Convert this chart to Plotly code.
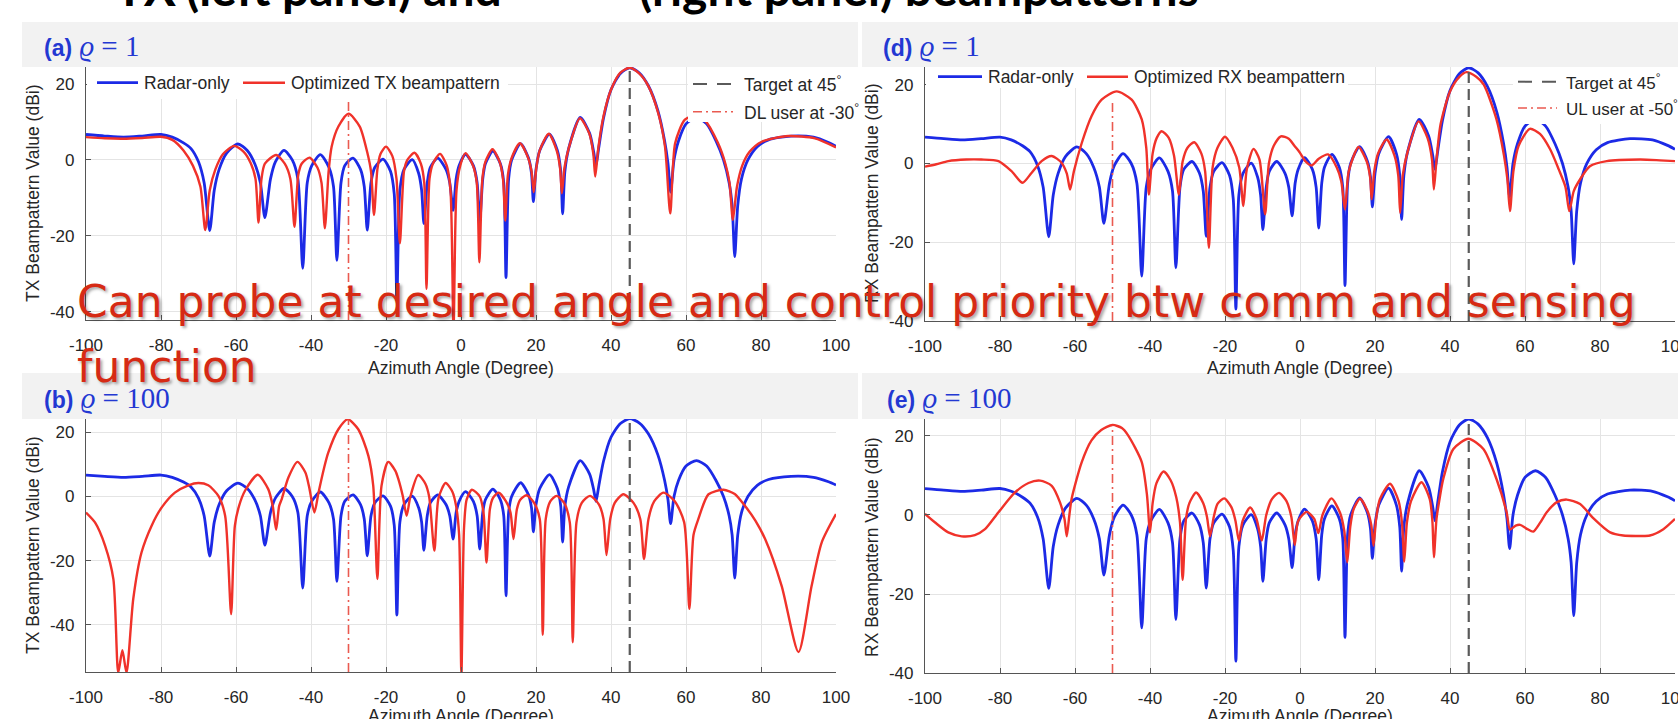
import plotly.graph_objects as go

W, H = 1678, 719

# ---------------- data ----------------
x_tick_vals = [-100, -80, -60, -40, -20, 0, 20, 40, 60, 80, 100]
x_tick_text = ["-100", "-80", "-60", "-40", "-20", "0", "20", "40", "60", "80", "100"]
y_tick_vals = [-40, -20, 0, 20]
y_tick_text = ["-40", "-20", "0", "20"]

target_angle = 45
dl_user_angle = -30
ul_user_angle = -50

title_pieces = ["TX", "(left panel) and", "(right panel) beampatterns"]

# Radar-only beampattern (same in all panels): (azimuth deg, dBi)
radar_pts = [
    (-100, 6.7), (-95, 6.3), (-90, 6.0), (-85, 6.3), (-80, 6.7), (-77, 6.0), (-74, 4.5), (-72, 3.0),
    (-70, -0.5), (-68.5, -6.0), (-67.0, -18.6), (-65.8, -8.0), (-64.5, -2.5), (-62.5, 1.8), (-59.5, 4.2),
    (-57.0, 2.5), (-55.0, -1.0), (-53.5, -6.0), (-52.3, -15.2), (-50.8, -5.0), (-49.5, -0.5), (-47.2, 2.5),
    (-45.0, 0.0), (-43.5, -5.0), (-42.2, -28.6), (-41.0, -6.0), (-39.8, -1.5), (-37.5, 1.4), (-35.2, -2.0),
    (-34.0, -7.0), (-33.1, -26.5), (-32.0, -6.0), (-31.0, -1.5), (-28.8, 0.5), (-26.8, -2.5), (-25.8, -7.0),
    (-25.0, -18.5), (-24.0, -6.0), (-23.0, -2.0), (-20.8, 0.2), (-18.8, -3.0), (-17.8, -9.0), (-17.1, -37.0),
    (-16.3, -8.0), (-15.2, -2.5), (-13.0, 0.1), (-11.3, -3.5), (-10.5, -8.0), (-9.9, -16.8), (-9.0, -6.0),
    (-8.2, -2.0), (-6.2, 0.5), (-4.0, -2.5), (-3.0, -6.0), (-2.1, -13.3), (-1.3, -5.0), (-0.5, -1.5),
    (1.2, 1.5), (3.3, -1.5), (4.3, -6.0), (5.0, -16.4), (5.8, -5.0), (6.5, -1.0), (8.5, 2.3), (10.5, -1.0),
    (11.4, -6.0), (12.0, -31.0), (12.7, -5.0), (13.5, 0.0), (15.9, 4.3), (18.0, 0.5), (18.8, -3.5),
    (19.3, -11.0), (20.0, -2.5), (21.0, 2.5), (23.6, 6.8), (25.7, 2.5), (26.6, -3.0), (27.1, -14.2),
    (27.7, -3.0), (28.7, 3.0), (31.8, 11.2), (34.3, 7.0), (35.4, 2.0), (36.0, -1.5), (36.7, 3.0),
    (38.0, 11.0), (40.0, 18.5), (42.5, 22.8), (45.0, 24.3), (47.5, 23.0), (50.0, 19.5), (52.5, 13.0),
    (54.3, 5.0), (55.2, -1.0), (55.9, -8.5), (56.8, 0.0), (58.0, 5.0), (60.0, 9.5), (62.8, 11.2),
    (65.5, 9.5), (68.0, 5.0), (70.0, 0.0), (71.5, -6.0), (72.3, -12.0), (73.0, -25.5), (73.8, -12.0),
    (74.8, -5.0), (76.5, 0.0), (79.0, 3.5), (82.0, 5.3), (88.0, 6.3), (94.0, 6.0), (98.0, 4.6), (100.0, 3.6),
]

# (a) optimized TX beampattern, rho = 1
tx_rho1_pts = [
    (-100, 6.0), (-95, 5.7), (-90, 5.6), (-85, 5.8), (-80, 6.1), (-77, 5.3), (-74, 2.5), (-71.5, -1.5),
    (-69.5, -7.0), (-68.2, -18.5), (-67.0, -8.0), (-65.5, -2.5), (-63.5, 1.5), (-60.5, 3.7), (-58.0, 2.2),
    (-56.0, -1.0), (-54.8, -5.0), (-54.0, -16.5), (-53.2, -5.0), (-52.3, -1.0), (-49.3, 1.3), (-47.0, -1.0),
    (-45.5, -5.0), (-44.4, -17.6), (-43.4, -4.0), (-42.5, -1.0), (-40.4, 0.6), (-38.3, -2.0), (-37.2, -6.0),
    (-36.3, -18.0), (-35.3, -3.0), (-34.5, 3.5), (-32.7, 8.8), (-30.0, 12.2), (-27.0, 8.8), (-25.0, 2.0),
    (-24.0, -3.0), (-23.2, -14.5), (-22.3, -2.5), (-21.5, 1.5), (-20.0, 3.5), (-18.3, 1.0), (-17.2, -5.0),
    (-16.3, -22.0), (-15.2, -3.0), (-14.3, 0.0), (-12.4, 1.9), (-10.7, -1.0), (-9.8, -6.0), (-9.2, -34.0),
    (-8.4, -5.0), (-7.5, -1.0), (-5.6, 1.6), (-3.8, -1.5), (-2.8, -8.0), (-2.0, -45.0), (-1.2, -8.0),
    (-0.2, -1.5), (1.2, 1.8), (3.2, -1.5), (4.2, -6.0), (4.9, -27.0), (5.7, -5.0), (6.5, -0.5), (8.4, 2.8),
    (10.3, -0.5), (11.2, -5.0), (11.8, -16.0), (12.5, -4.0), (13.5, 0.5), (15.7, 4.4), (17.8, 0.8),
    (18.8, -3.0), (19.4, -8.5), (20.1, -2.0), (21.0, 2.5), (23.4, 6.9), (25.5, 2.5), (26.4, -2.0),
    (26.9, -8.8), (27.6, -2.0), (28.7, 3.0), (31.7, 11.0), (34.2, 7.0), (35.3, 1.5), (35.8, -4.4),
    (36.6, 3.0), (38.0, 11.5), (40.0, 18.5), (42.5, 23.0), (45.0, 24.3), (47.5, 22.8), (50.0, 19.4),
    (52.6, 12.3), (54.4, 3.5), (55.8, -14.1), (57.1, 4.4), (59.7, 10.6), (62.6, 11.8), (65.0, 10.5),
    (68.5, 4.5), (70.5, -1.0), (71.6, -6.0), (72.5, -15.8), (73.6, -7.0), (75.0, -1.5), (77.0, 2.2),
    (80.2, 4.8), (87.3, 6.3), (94.4, 5.7), (100.0, 3.3),
]

# (b) optimized TX beampattern, rho = 100
tx_rho100_pts = [
    (-100, -5.0), (-97.6, -8.1), (-94.9, -15.4), (-92.7, -25.8), (-91.4, -55.0), (-90.3, -48.0),
    (-89.2, -55.0), (-87.4, -32.0), (-85.2, -17.5), (-82.5, -9.1), (-79.8, -3.4), (-76.3, 1.2),
    (-72.7, 3.5), (-70.0, 4.2), (-67.4, 3.5), (-64.7, 0.2), (-62.9, -6.0), (-61.3, -36.7), (-60.3, -9.1),
    (-59.2, -3.0), (-57.6, 1.8), (-54.2, 6.8), (-51.4, 2.3), (-50.2, -3.0), (-49.3, -10.4), (-48.5, -3.0),
    (-47.8, -0.8), (-46.0, 6.0), (-43.6, 10.8), (-41.5, 7.5), (-40.5, 3.0), (-39.1, -5.0), (-38.0, 1.2),
    (-36.5, 9.0), (-35.4, 13.7), (-32.7, 21.0), (-30.2, 24.1), (-27.4, 21.0), (-24.7, 12.7), (-23.4, 3.3),
    (-22.3, -25.8), (-21.2, 3.3), (-19.4, 10.8), (-17.5, 8.0), (-16.7, 5.4), (-15.5, 0.0), (-14.5, -6.0),
    (-13.5, 0.0), (-11.4, 6.7), (-9.5, 4.0), (-8.5, 0.0), (-7.1, -16.9), (-6.0, -0.5), (-4.1, 4.2),
    (-2.3, 1.5), (-1.3, -3.0), (-0.5, -12.0), (0.1, -56.0), (0.8, -10.0), (1.5, -1.0), (2.9, 2.1),
    (5.0, 0.0), (6.0, -5.0), (6.8, -20.6), (7.7, -4.0), (8.5, -0.5), (10.0, 1.2), (12.0, -1.5),
    (13.2, -5.0), (14.0, -13.3), (14.9, -4.0), (15.8, -1.0), (17.5, 0.4), (19.5, -2.0), (21.0, -7.0),
    (21.8, -43.2), (22.6, -7.0), (23.8, -1.5), (25.5, 0.2), (27.5, -2.0), (29.0, -8.0), (29.8, -45.5),
    (30.8, -8.0), (32.2, -2.0), (34.4, 0.2), (36.8, -2.5), (38.0, -7.0), (38.8, -18.3), (39.8, -7.0),
    (41.0, -2.0), (43.3, 0.7), (46.0, -2.0), (47.8, -7.0), (48.8, -19.5), (50.0, -7.0), (51.5, -1.5),
    (54.0, 1.2), (57.0, -1.5), (59.5, -8.0), (60.9, -35.1), (62.0, -12.0), (63.3, -7.0), (66.0, 0.7),
    (70.0, 2.1), (73.0, 0.8), (75.7, -2.9), (78.5, -7.5), (81.1, -13.3), (85.5, -27.9), (90.0, -48.6),
    (93.5, -27.9), (96.2, -14.3), (100.0, -5.5),
]

# (d) optimized RX beampattern, rho = 1
rx_rho1_pts = [
    (-100, -0.8), (-97, -0.2), (-93.8, 0.6), (-89, 1.0), (-85, 1.0), (-80.4, 0.6), (-77, -1.9),
    (-74, -4.9), (-71.6, -2.4), (-68.9, 0.6), (-66.2, 1.9), (-63.6, 0.2), (-62.2, -2.5), (-61.3, -6.6),
    (-60.3, -2.0), (-58.2, 5.2), (-55.6, 12.0), (-52.9, 16.2), (-48.9, 18.3), (-44.9, 16.2), (-42.2, 11.2),
    (-41.0, 4.0), (-40.3, -7.9), (-39.3, 2.5), (-38.2, 6.5), (-36.9, 8.2), (-35.0, 6.5), (-33.6, 2.0),
    (-32.3, -7.9), (-31.3, 0.5), (-30.0, 4.0), (-28.2, 5.4), (-26.3, 2.5), (-25.3, -2.0), (-24.3, -21.4),
    (-23.3, -1.0), (-22.0, 4.0), (-20.0, 6.8), (-18.0, 4.0), (-16.2, -1.0), (-15.1, -10.8), (-14.2, -1.5),
    (-12.4, 3.7), (-10.8, 1.0), (-9.3, -12.9), (-8.3, 0.0), (-7.0, 4.5), (-5.1, 6.9), (-3.0, 6.3),
    (-1.5, 4.5), (0.0, 2.7), (1.5, 0.5), (3.1, -0.5), (5.0, 1.2), (7.5, 2.3), (9.8, -1.0), (11.0, -4.5),
    (12.0, -11.7), (13.0, -2.0), (15.6, 4.2), (17.8, 0.5), (18.7, -3.5), (19.1, -9.1), (19.8, -2.0),
    (20.8, 2.5), (23.1, 6.1), (25.2, 2.0), (26.2, -3.0), (26.7, -12.5), (27.4, -3.0), (28.7, 3.0),
    (31.6, 10.7), (34.0, 6.5), (35.2, 1.0), (35.7, -6.6), (36.4, 1.0), (37.5, 10.0), (40.0, 18.3),
    (42.5, 22.0), (44.4, 23.2), (47.0, 22.0), (49.0, 20.0), (52.4, 11.2), (54.4, 2.0), (55.3, -4.0),
    (56.0, -12.1), (56.9, -2.0), (58.3, 4.5), (61.3, 8.8), (64.0, 7.5), (66.7, 3.6), (69.0, -1.5),
    (70.8, -6.0), (71.8, -12.1), (73.0, -7.0), (74.7, -4.0), (77.3, -0.7), (81.8, 0.6), (90.7, 1.0),
    (96.0, 0.8), (100.0, 0.6),
]

# (e) optimized RX beampattern, rho = 100
rx_rho100_pts = [
    (-100, 0.3), (-97.3, -1.9), (-93.8, -4.4), (-90.2, -5.4), (-86.7, -5.1), (-84.0, -3.6), (-80.4, 0.7),
    (-76.0, 5.7), (-72.4, 8.1), (-69.3, 8.7), (-66.2, 7.4), (-64.0, 3.2), (-62.8, -1.0), (-62.2, -5.4),
    (-61.5, 0.0), (-60.9, 4.1), (-58.2, 13.4), (-55.6, 18.9), (-53.0, 21.5), (-50.0, 22.8), (-47.5, 22.0),
    (-45.8, 20.1), (-42.2, 13.4), (-40.8, 5.0), (-40.0, -4.4), (-39.3, 3.0), (-38.3, 8.0), (-36.4, 11.0),
    (-34.5, 8.8), (-33.0, 4.5), (-32.0, -1.9), (-31.3, -16.4), (-30.4, -1.0), (-29.5, 3.0), (-27.7, 5.7),
    (-25.8, 3.0), (-24.8, -0.5), (-24.0, -5.4), (-23.0, -0.5), (-22.0, 2.8), (-20.2, 4.2), (-18.3, 2.0),
    (-17.2, -1.5), (-16.3, -6.5), (-15.3, -1.5), (-13.3, 1.9), (-11.6, -1.0), (-10.2, -6.5), (-9.0, 0.0),
    (-7.5, 4.0), (-5.6, 5.6), (-3.6, 3.5), (-2.3, -0.5), (-1.4, -7.6), (-0.5, -1.5), (1.8, 0.8),
    (3.8, -1.0), (4.9, -4.6), (6.0, 0.0), (8.4, 4.2), (10.7, 0.5), (11.8, -4.0), (12.6, -12.0),
    (13.4, -3.0), (14.3, 1.5), (16.0, 4.1), (18.0, 1.0), (19.0, -2.5), (19.6, -7.8), (20.3, -1.0),
    (21.3, 4.0), (24.0, 7.9), (26.3, 3.5), (27.2, -2.0), (27.8, -11.8), (28.5, -2.0), (29.6, 3.5),
    (32.4, 8.3), (34.6, 4.0), (35.3, -1.5), (35.7, -10.7), (36.4, -1.0), (37.2, 4.0), (38.2, 9.1),
    (40.9, 16.7), (44.9, 19.3), (48.9, 16.7), (52.4, 9.1), (55.1, 0.7), (56.0, -3.7), (57.5, -2.7),
    (58.7, -2.5), (60.5, -3.5), (62.2, -4.2), (64.0, -2.0), (65.8, 0.7), (68.4, 3.2), (71.1, 3.9),
    (74.7, 2.8), (78.2, -0.8), (82.7, -4.4), (86.2, -5.2), (90.0, -5.3), (93.3, -5.2), (96.9, -3.6),
    (100.0, -1.0),
]

# ---------------- styling ----------------
BLUE = "#1c2ae6"
RED = "#f0322a"
USER_RED = "#ea5a50"
DARK = "#262626"
SANS = "Liberation Sans, Arial, sans-serif"
TICK_FONT = dict(family=SANS, size=17, color=DARK)


def px(x):
    return x / W


def py(y):
    return 1 - y / H


panels = [
    dict(xd=(86, 836), yd=(67, 320), yr=(-42.2, 24.5), red=tx_rho1_pts, user=dl_user_angle, user_top=15.9),
    dict(xd=(86, 836), yd=(419, 672), yr=(-54.8, 24.2), red=tx_rho100_pts, user=dl_user_angle, user_top=24.0),
    dict(xd=(925, 1675), yd=(67, 321), yr=(-40.0, 24.5), red=rx_rho1_pts, user=ul_user_angle, user_top=16.2),
    dict(xd=(925, 1675), yd=(419, 673), yr=(-40.0, 24.3), red=rx_rho100_pts, user=ul_user_angle, user_top=22.6),
]

fig = go.Figure()
layout = dict(
    template="none",
    width=W, height=H, autosize=False,
    margin=dict(l=0, r=0, t=0, b=0, pad=0),
    paper_bgcolor="white", plot_bgcolor="rgba(0,0,0,0)",
    showlegend=False,
    font=dict(family=SANS, size=17, color=DARK),
)

for i, p in enumerate(panels, start=1):
    xa = "x" if i == 1 else f"x{i}"
    ya = "y" if i == 1 else f"y{i}"
    rdeg = [d for d, _ in radar_pts]
    rdb = [v for _, v in radar_pts]
    odeg = [d for d, _ in p["red"]]
    odb = [v for _, v in p["red"]]
    fig.add_trace(go.Scatter(x=rdeg, y=rdb, mode="lines", xaxis=xa, yaxis=ya, hoverinfo="skip",
                             line=dict(color=BLUE, width=2.8, shape="spline", smoothing=0.7)))
    fig.add_trace(go.Scatter(x=odeg, y=odb, mode="lines", xaxis=xa, yaxis=ya, hoverinfo="skip",
                             line=dict(color=RED, width=2.4, shape="spline", smoothing=0.7)))
    fig.add_trace(go.Scatter(x=[p["user"], p["user"]], y=[p["yr"][0], p["user_top"]], mode="lines",
                             xaxis=xa, yaxis=ya, hoverinfo="skip",
                             line=dict(color=USER_RED, width=1.6, dash="9px,4px,2px,4px")))
    fig.add_trace(go.Scatter(x=[target_angle, target_angle], y=[p["yr"][0], p["yr"][1]], mode="lines",
                             xaxis=xa, yaxis=ya, hoverinfo="skip",
                             line=dict(color="#5a5a5a", width=2.2, dash="11px,6px")))

    axis_common = dict(showgrid=True, gridcolor="#e4e4e4", gridwidth=1, zeroline=False,
                       showline=True, linecolor="#555555", linewidth=1.2, automargin=False,
                       ticks="inside", ticklen=5, tickcolor="#555555", tickfont=TICK_FONT)
    layout["xaxis" if i == 1 else f"xaxis{i}"] = dict(
        domain=[px(p["xd"][0]), px(p["xd"][1])], range=[-100, 100], anchor=ya,
        tickvals=x_tick_vals, ticktext=x_tick_text, ticklabelstandoff=9, ticklabeloverflow="allow",
        **axis_common)
    layout["yaxis" if i == 1 else f"yaxis{i}"] = dict(
        domain=[py(p["yd"][1]), py(p["yd"][0])], range=list(p["yr"]), anchor=xa,
        tickvals=y_tick_vals, ticktext=y_tick_text, ticklabelstandoff=7, ticklabeloverflow="allow",
        **axis_common)

# a hidden pixel-space strip at the very top, used to clip the cut-off slide title
TITLE_STRIP = 22
layout["xaxis5"] = dict(domain=[0, 1], range=[0, W], visible=False, anchor="y5", fixedrange=True)
layout["yaxis5"] = dict(domain=[py(TITLE_STRIP), 1], range=[TITLE_STRIP, 0], visible=False, anchor="x5",
                        fixedrange=True)
fig.add_trace(go.Scatter(
    x=[176, 186, 639], y=[-6, -6, -6], mode="text", text=title_pieces,
    textposition=["middle left", "middle right", "middle right"], xaxis="x5", yaxis="y5",
    cliponaxis=True, hoverinfo="skip",
    textfont=dict(family="Lato, Open Sans, sans-serif", size=48, color="black", weight="bold")))

fig.update_layout(**layout)

shapes = []
annotations = []

# white plot backgrounds for the four panels
for p in panels:
    shapes.append(dict(type="rect", xref="paper", yref="paper", x0=px(p["xd"][0]), x1=px(p["xd"][1]),
                       y0=py(p["yd"][1]), y1=py(p["yd"][0]), fillcolor="white", line=dict(width=0),
                       layer="below"))

# gray header bands
for x0, x1, y0, y1 in [(22, 858, 22, 67), (862, 1678, 22, 67), (22, 858, 373, 419), (862, 1678, 373, 419)]:
    shapes.append(dict(type="rect", xref="paper", yref="paper", x0=px(x0), x1=px(x1), y0=py(y1), y1=py(y0),
                       fillcolor="#f2f2f2", line=dict(width=0), layer="below"))

# white legend boxes (opaque, above curves)
for x0, x1, y0, y1 in [(87, 508, 67, 99), (688, 836, 67, 122), (926, 1348, 67, 88), (1513, 1675, 67, 124)]:
    shapes.append(dict(type="rect", xref="paper", yref="paper", x0=px(x0), x1=px(x1), y0=py(y1), y1=py(y0),
                       fillcolor="white", line=dict(width=0), layer="above"))


def legend_line(x0, x1, y, color, width, dash="solid"):
    shapes.append(dict(type="line", xref="paper", yref="paper", x0=px(x0), x1=px(x1), y0=py(y), y1=py(y),
                       line=dict(color=color, width=width, dash=dash), layer="above"))


def text(x, y, s, size=17.5, color=DARK, family=SANS, xanchor="left", yanchor="middle", angle=0, **kw):
    annotations.append(dict(x=px(x), y=py(y), xref="paper", yref="paper", text=s, showarrow=False,
                            xanchor=xanchor, yanchor=yanchor, textangle=angle, borderpad=0,
                            font=dict(family=family, size=size, color=color, **kw)))


# legends panel (a)
legend_line(97, 138, 82.7, BLUE, 2.8)
text(143, 83, "Radar-only")
legend_line(243, 285, 82.7, RED, 2.4)
text(290, 83, "Optimized TX beampattern")
legend_line(693, 733, 84, "#5a5a5a", 2.0, "14px,10px")
text(743, 84, "Target at 45<sup>°</sup>")
legend_line(693, 733, 111.7, USER_RED, 1.6, "9px,4px,2px,4px")
text(743, 112, "DL user at -30<sup>°</sup>")

# legends panel (d)
legend_line(938, 982, 76.7, BLUE, 2.8)
text(987, 77, "Radar-only")
legend_line(1087, 1128, 76.7, RED, 2.4)
text(1133, 77, "Optimized RX beampattern")
legend_line(1518, 1557, 81.7, "#5a5a5a", 2.0, "14px,10px")
text(1565, 82, "Target at 45<sup>°</sup>", size=17)
legend_line(1518, 1557, 108, USER_RED, 1.6, "9px,4px,2px,4px")
text(1565, 108, "UL user at -50<sup>°</sup>", size=17)

# panel labels
LBL = "#2338d2"


def panel_label(x, y, letter, rho):
    s = (f"<span style='font-family:Liberation Sans Narrow, Liberation Sans, Arial;font-weight:bold;font-size:23px'>({letter})</span>"
         f"<span style='font-family:Liberation Serif, DejaVu Serif, serif;font-size:29px'> <i>ϱ</i> = {rho}</span>")
    text(x, y, s, size=29, color=LBL, family="Liberation Serif, DejaVu Serif, serif")


panel_label(43, 46, "a", 1)
panel_label(43, 398, "b", 100)
panel_label(882, 46, "d", 1)
panel_label(886, 398, "e", 100)

# axis titles
for x, y in [(461, 368), (461, 716), (1300, 368), (1300, 716)]:
    text(x, y, "Azimuth Angle (Degree)", size=17.5, xanchor="center")
for x, y, s in [(33, 193, "TX Beampattern Value (dBi)"), (33, 545, "TX Beampattern Value (dBi)"),
                (872, 193, "RX Beampattern Value (dBi)"), (872, 547, "RX Beampattern Value (dBi)")]:
    text(x, y, s, size=17.5, xanchor="center", angle=-90)

# red overlay remark
RED_TXT = "#d62a14"
shadow = "2px 2px 3px rgba(0,0,0,0.35)"
OVER_FONT = "DejaVu Sans, Noto Sans, sans-serif"
text(76, 302, "Can probe at desired angle and control priority btw comm and sensing", size=44,
     color=RED_TXT, family=OVER_FONT, shadow=shadow)
text(76, 366, "function", size=44, color=RED_TXT, family=OVER_FONT, shadow=shadow)

fig.update_layout(shapes=shapes, annotations=annotations)
fig.write_html("out.html")
